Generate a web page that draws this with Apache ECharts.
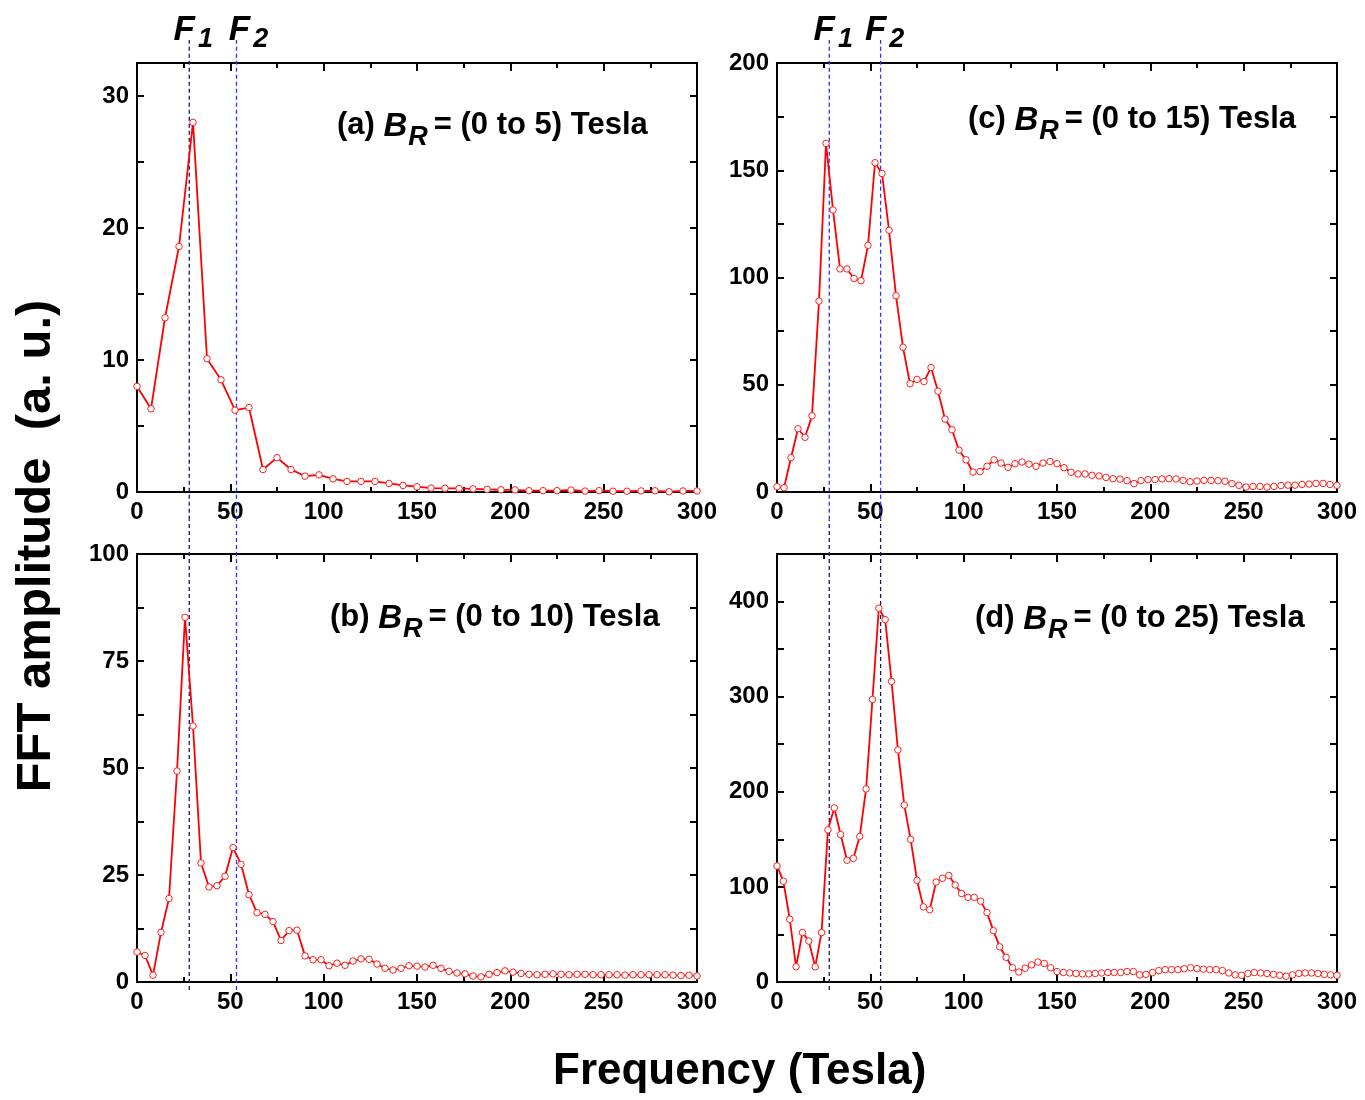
<!DOCTYPE html>
<html>
<head>
<meta charset="utf-8">
<script src="https://cdn.jsdelivr.net/npm/echarts@6/dist/echarts.min.js"></script>
<style>
  html, body { margin: 0; padding: 0; background: #fff; }
  #main { width: 1365px; height: 1100px; }
</style>
</head>
<body>
<div id="main"></div>
<script>
// FFT amplitude vs frequency, four field ranges
const stepA = 7.5;
const ampA = [8.0, 6.3, 13.2, 18.6, 28.0, 10.1, 8.5, 6.2, 6.4, 1.7, 2.6, 1.7, 1.2, 1.3, 1.0, 0.8, 0.8, 0.8, 0.65, 0.5,
  0.4, 0.3, 0.28, 0.27, 0.24, 0.2, 0.17, 0.16, 0.1, 0.1, 0.1, 0.15, 0.07, 0.1, 0.06, 0.06, 0.08, 0.09, 0.02, 0.08, 0.08];

const stepB = 300 / 70;
const ampB = [7.0, 6.2, 1.6, 11.6, 19.5, 49.3, 85.2, 59.8, 27.8, 22.2, 22.5, 24.7, 31.4, 27.5, 20.4, 16.2, 15.8, 14.1, 9.7, 12.0,
  12.1, 6.1, 5.2, 5.2, 3.8, 4.4, 3.9, 4.9, 5.4, 5.3, 4.2, 3.2, 2.8, 3.2, 3.8, 3.7, 3.5, 3.9, 3.2, 2.5,
  2.1, 1.9, 1.4, 1.2, 1.8, 2.2, 2.6, 2.3, 2.0, 1.8, 1.7, 1.8, 1.9, 1.8, 1.7, 1.8, 1.8, 1.7, 1.7, 1.7,
  1.7, 1.6, 1.7, 1.7, 1.7, 1.7, 1.7, 1.6, 1.5, 1.6, 1.4];

const stepC = 3.75;
const ampC = [2.5, 2, 16, 29.5, 25.5, 35.5, 89, 162.5, 131.5, 104, 104, 99.5, 98.5, 115, 153.5, 148.5, 122, 91.5, 67.5, 50.5,
  52.5, 51.5, 58, 47, 34, 29, 19.5, 15, 9.3, 9.5, 12, 15, 13.5, 11.5, 13.2, 14, 13, 12, 13.5, 14.2,
  13.2, 11.3, 9.2, 8.4, 8.4, 7.8, 7.5, 6.8, 6.2, 6.0, 5.3, 3.9, 5.3, 5.8, 5.8, 6.1, 6.2, 6.1, 5.4, 4.8,
  5.1, 5.4, 5.4, 5.3, 5.0, 3.9, 3.1, 2.3, 2.6, 2.6, 2.3, 2.6, 3.0, 3.2, 3.2, 3.5, 3.7, 4.0, 4.0, 3.5, 3.1];

const stepD = 300 / 88;
const ampD = [122, 106, 66, 16, 52, 43, 16, 52, 160, 183, 155, 128, 130, 153, 203, 297, 393, 381, 316, 244,
  186, 150, 107, 79, 76, 105, 109, 112, 102, 93, 89, 89, 85, 73, 54, 37, 26, 15, 10.5, 14.5,
  18, 21, 19.5, 15, 11, 10, 9.5, 9, 8.5, 8.5, 9, 9.5, 10, 10, 10, 11, 11, 7.5, 8, 10,
  12, 13, 13, 13, 14, 15, 14, 13.5, 13, 13, 12, 9.5, 7.5, 7, 9, 10, 9.5, 9, 8, 7,
  6, 7.5, 9, 9.5, 9.5, 9, 8, 7.5, 7];

const panelLabels = ['(a) ', '(c) ', '(b) ', '(d) '];
const panelRanges = ['= (0 to 5) Tesla', '= (0 to 15) Tesla', '= (0 to 10) Tesla', '= (0 to 25) Tesla'];
const yMax = [32.5, 200, 100, 450];
const yTick = [5, 25, 12.5, 50];
const yLabelStep = [10, 50, 25, 100];

const fLeft = [28.0, 53.3];
const fRight = [28.0, 55.5];
const fSubs = ['1', '2'];

const FONT = '"Liberation Sans", Arial, Helvetica, sans-serif';
const pairs = (amp, step) => amp.map((v, i) => [i * step, v]);
const panelData = [pairs(ampA, stepA), pairs(ampC, stepC), pairs(ampB, stepB), pairs(ampD, stepD)];

const grids = [
  { left: 137, top: 63, width: 560, height: 429 },
  { left: 777, top: 63, width: 560, height: 429 },
  { left: 137, top: 554, width: 560, height: 428 },
  { left: 777, top: 554, width: 560, height: 428 },
  { left: 137, top: 40, width: 560, height: 950 },
  { left: 777, top: 40, width: 560, height: 950 }
].map(g => Object.assign({ outerBoundsMode: 'none', containLabel: false }, g));

const axisLine = { show: true, onZero: false, lineStyle: { color: '#000', width: 2 } };
const labelStyle = { color: '#000', fontSize: 24, fontWeight: 'bold', fontFamily: FONT };

const xAxes = [], yAxes = [];
for (let g = 0; g < 4; g++) {
  ['bottom', 'top'].forEach(pos => {
    xAxes.push({
      type: 'value', gridIndex: g, position: pos, min: 0, max: 300, interval: 50,
      axisLine: axisLine,
      axisTick: { show: true, inside: true, length: 8, lineStyle: { color: '#000', width: 2 } },
      minorTick: { show: true, splitNumber: 2, length: 5, lineStyle: { color: '#000', width: 2 } },
      axisLabel: Object.assign({ show: pos === 'bottom', margin: 8 }, labelStyle),
      splitLine: { show: false }
    });
  });
  ['left', 'right'].forEach(pos => {
    yAxes.push({
      type: 'value', gridIndex: g, position: pos, min: 0, max: yMax[g], interval: yTick[g],
      axisLine: axisLine,
      axisTick: { show: true, inside: true, length: 7, lineStyle: { color: '#000', width: 2 } },
      axisLabel: Object.assign({
        show: pos === 'left', margin: 8,
        formatter: v => (Math.abs(v / yLabelStep[g] - Math.round(v / yLabelStep[g])) < 1e-6 ? String(v) : '')
      }, labelStyle),
      splitLine: { show: false }
    });
  });
}
// overlay grids carrying the F1 / F2 marker lines across both rows
for (let g = 4; g < 6; g++) {
  xAxes.push({ type: 'value', gridIndex: g, min: 0, max: 300, show: false });
  yAxes.push({ type: 'value', gridIndex: g, min: 0, max: 1, show: false });
}

const series = [];
panelData.forEach((d, g) => {
  series.push({
    type: 'line', xAxisIndex: 2 * g, yAxisIndex: 2 * g, data: d,
    symbol: 'circle', symbolSize: 6.5, showSymbol: true,
    lineStyle: { color: '#ff0000', width: 1.8 },
    itemStyle: { color: '#ffffff', borderColor: '#ff2020', borderWidth: 1 },
    z: 5, animation: false
  });
});

const split = 0.495;
const darkLine = '#161670';
const blueLine = '#2e2eff';
const colSpec = [
  { axis: 8, f: fLeft, top: [darkLine, blueLine], bottom: [darkLine, blueLine], dx: [4, 12] },
  { axis: 9, f: fRight, top: [blueLine, blueLine], bottom: [darkLine, darkLine], dx: [4, 4] }
];
colSpec.forEach(c => {
  c.f.forEach((fv, k) => {
    [[0, split, c.bottom[k]], [split, 1, c.top[k]]].forEach(seg => {
      series.push({
        type: 'line', xAxisIndex: c.axis, yAxisIndex: c.axis,
        data: [[fv, seg[0]], [fv, seg[1]]], symbol: 'none',
        lineStyle: { color: seg[2], width: 1.3, type: [4, 3] }, z: 3, animation: false
      });
    });
    series.push({
      type: 'scatter', xAxisIndex: c.axis, yAxisIndex: c.axis,
      data: [[fv, 1]], symbolSize: 0.1, itemStyle: { color: 'transparent', opacity: 1 },
      label: {
        show: true, position: 'top', distance: 0, offset: [c.dx[k], 7], color: '#000', opacity: 1,
        formatter: '{f|F}{s|' + fSubs[k] + '}',
        rich: {
          f: { fontSize: 35, lineHeight: 34, fontWeight: 'bold', fontStyle: 'italic', fontFamily: FONT, color: '#000', verticalAlign: 'top' },
          s: { fontSize: 27, lineHeight: 26, fontWeight: 'bold', fontStyle: 'italic', fontFamily: FONT, color: '#000', verticalAlign: 'top', padding: [13, 0, 0, 3] }
        }
      },
      animation: false
    });
  });
});

const labelPos = [[337, 110], [968, 104], [330, 602], [975, 603]];
const richPanel = {
  n: { fontSize: 31, lineHeight: 32, fontWeight: 'bold', fontFamily: FONT, color: '#000', verticalAlign: 'top' },
  b: { fontSize: 33, lineHeight: 32, fontWeight: 'bold', fontStyle: 'italic', fontFamily: FONT, color: '#000', verticalAlign: 'top' },
  s: { fontSize: 27, lineHeight: 26, fontWeight: 'bold', fontStyle: 'italic', fontFamily: FONT, color: '#000', verticalAlign: 'top', padding: [14, 6, 0, 1] }
};
const graphic = panelLabels.map((p, i) => ({
  type: 'text', left: labelPos[i][0], top: labelPos[i][1], z: 10,
  style: { text: '{n|' + p + '}{b|B}{s|R}{n|' + panelRanges[i] + '}', rich: richPanel }
}));
graphic.push({
  type: 'text', left: 553, top: 1050, z: 10,
  style: { text: 'Frequency (Tesla)', font: 'bold 44px ' + FONT, fill: '#000' }
});
graphic.push({
  type: 'text', x: 36, y: 546, rotation: Math.PI / 2, z: 10,
  style: { text: 'FFT amplitude  (a. u.)', font: 'bold 49px ' + FONT, fill: '#000', align: 'center', verticalAlign: 'middle' }
});

const chart = echarts.init(document.getElementById('main'), null, { renderer: 'canvas' });
chart.setOption({
  backgroundColor: '#ffffff',
  animation: false,
  grid: grids,
  xAxis: xAxes,
  yAxis: yAxes,
  series: series,
  graphic: graphic
});
</script>
</body>
</html>
